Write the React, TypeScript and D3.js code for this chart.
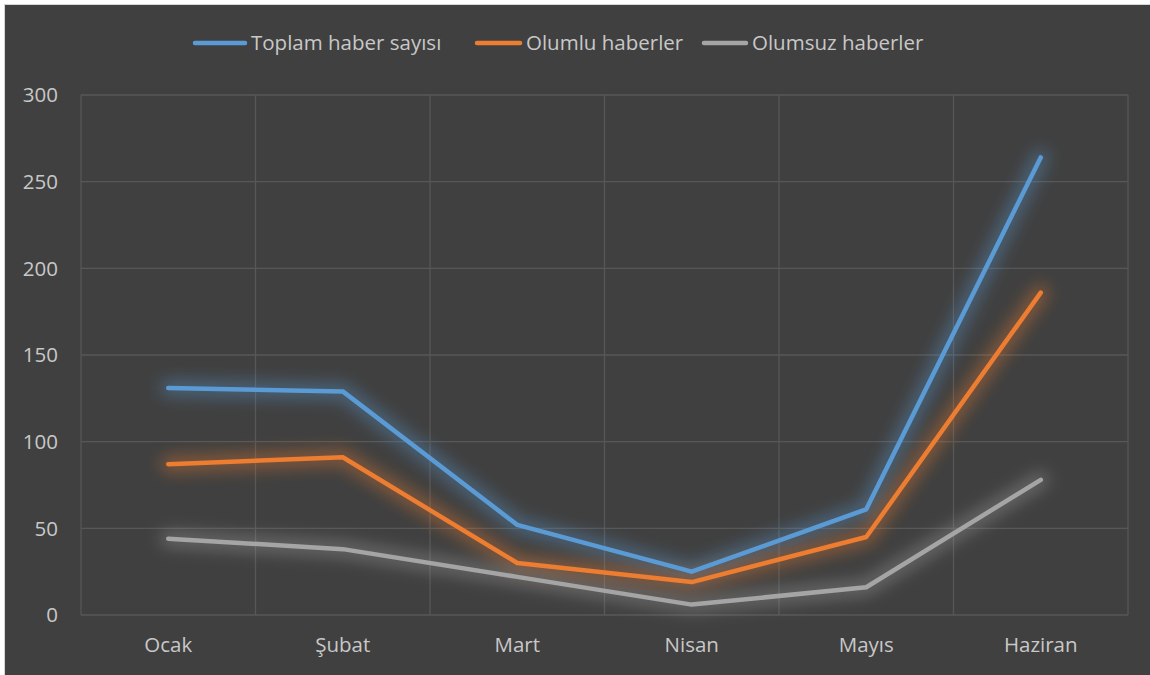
// Line chart: monthly news counts (total / positive / negative)
import React from 'react';
import * as d3 from 'd3';

const months = ['Ocak', 'Şubat', 'Mart', 'Nisan', 'Mayıs', 'Haziran'];
const toplam = [131, 129, 52, 25, 61, 264];
const olumlu = [87, 91, 30, 19, 45, 186];
const olumsuz = [44, 38, 22, 6, 16, 78];
const yTicks = [0, 50, 100, 150, 200, 250, 300];

const seriesNames = ['Toplam haber sayısı', 'Olumlu haberler', 'Olumsuz haberler'];
const seriesColors = ['#5b9bd5', '#ed7d31', '#a5a5a5'];

const width = 1150;
const height = 675;
const margin = { top: 95, right: 22, bottom: 60, left: 81 };
const font = "'Open Sans', 'Noto Sans', sans-serif";
const textColor = '#c8c8c8';

const App: React.FC = () => {
  const series = [toplam, olumlu, olumsuz];

  const x = d3
    .scaleBand<string>()
    .domain(months)
    .range([margin.left, width - margin.right])
    .padding(0);

  const y = d3
    .scaleLinear()
    .domain([0, 300])
    .range([height - margin.bottom, margin.top]);

  const line = d3
    .line<number>()
    .x((_, i) => (x(months[i]) as number) + x.bandwidth() / 2)
    .y((d) => y(d));

  const boundaries = months.map((m) => x(m) as number).concat([width - margin.right]);
  // legend swatch start / text start
  const legendLine = [193, 475, 702];
  const legendText = [251, 526, 752];

  return (
    <svg
      width={width}
      height={height}
      style={{ position: 'absolute', left: 0, top: 0, fontFamily: font }}
    >
      <defs>
        <filter id="glow" x="-20%" y="-20%" width="140%" height="140%">
          <feGaussianBlur stdDeviation="8" />
        </filter>
      </defs>
      <rect x={0} y={0} width={width} height={height} fill="#ffffff" />
      <rect x={4.5} y={4.5} width={width} height={height} fill="#404040" stroke="#d6d6d6" />

      {/* gridlines */}
      {yTicks.map((t) => (
        <line
          key={`h${t}`}
          x1={margin.left}
          x2={width - margin.right}
          y1={y(t)}
          y2={y(t)}
          stroke="#575757"
          strokeWidth={1.3}
        />
      ))}
      {boundaries.map((b, i) => (
        <line
          key={`v${i}`}
          x1={b}
          x2={b}
          y1={margin.top}
          y2={height - margin.bottom}
          stroke="#575757"
          strokeWidth={1.3}
        />
      ))}

      {/* y tick labels */}
      {yTicks.map((t) => (
        <text
          key={`yt${t}`}
          x={58}
          y={y(t)}
          dy="0.35em"
          textAnchor="end"
          fontSize={20.5}
          fill={textColor}
        >
          {t}
        </text>
      ))}

      {/* x labels */}
      {months.map((m) => (
        <text
          key={m}
          x={(x(m) as number) + x.bandwidth() / 2}
          y={645}
          dy="0.35em"
          textAnchor="middle"
          fontSize={20.5}
          fill={textColor}
        >
          {m}
        </text>
      ))}

      {/* glow */}
      {series.map((s, i) => (
        <path
          key={`g${i}`}
          d={line(s) || ''}
          fill="none"
          stroke={seriesColors[i]}
          strokeWidth={16}
          strokeOpacity={0.4}
          strokeLinecap="round"
          strokeLinejoin="round"
          filter="url(#glow)"
        />
      ))}
      {series.map((s, i) => (
        <path
          key={`l${i}`}
          d={line(s) || ''}
          fill="none"
          stroke={seriesColors[i]}
          strokeWidth={4.5}
          strokeLinecap="round"
          strokeLinejoin="round"
        />
      ))}

      {/* legend */}
      {seriesNames.map((n, i) => (
        <g key={n}>
          <line
            x1={legendLine[i] + 2}
            x2={legendText[i] - 6}
            y1={43}
            y2={43}
            stroke={seriesColors[i]}
            strokeWidth={4.5}
            strokeLinecap="round"
          />
          <text x={legendText[i]} y={43} dy="0.35em" fontSize={20.5} fill={textColor}>
            {n}
          </text>
        </g>
      ))}
    </svg>
  );
};

export default App;
